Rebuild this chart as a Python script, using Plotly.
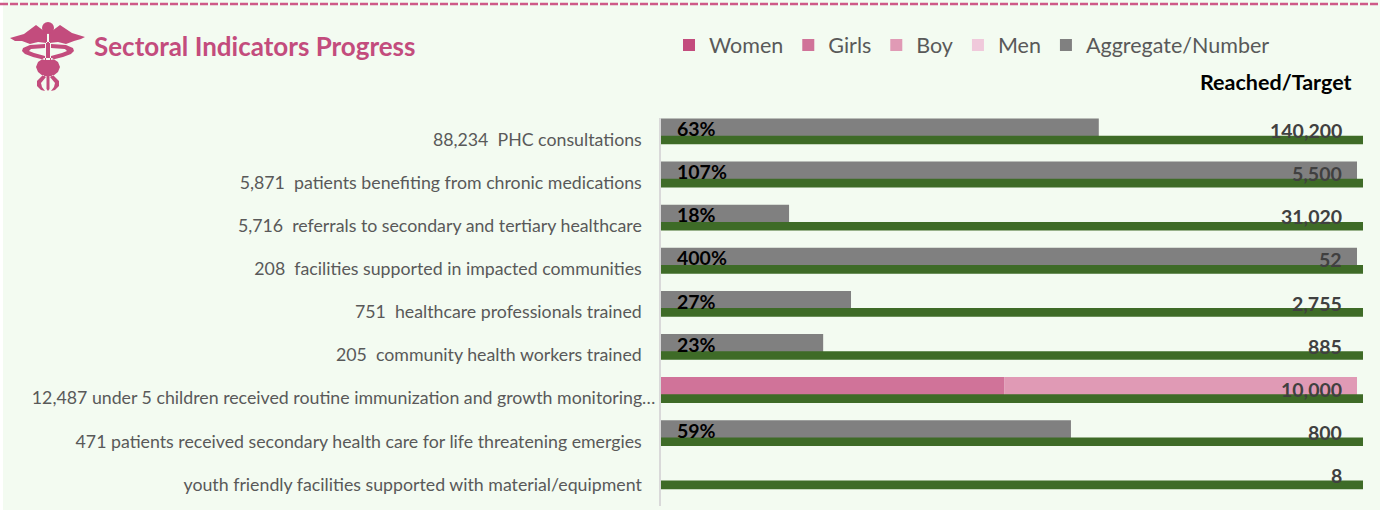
import plotly.graph_objects as go

categories = [
    "88,234  PHC consultations",
    "5,871  patients benefiting from chronic medications",
    "5,716  referrals to secondary and tertiary healthcare",
    "208  facilities supported in impacted communities",
    "751  healthcare professionals trained",
    "205  community health workers trained",
    "12,487 under 5 children received routine immunization and growth monitoring\u2026",
    "471 patients received secondary health care for life threatening emergies",
    "youth friendly facilities supported with material/equipment",
]
label_padding = [3, 3, 3, 3, 3, 3, 0, 3, 3]
aggregate = [0.629, 1.0, 0.184, 1.0, 0.273, 0.233, None, 0.589, None]
girls = [None, None, None, None, None, None, 0.493, None, None]
boy = [None, None, None, None, None, None, 0.507, None, None]
target_bar = [1.0086] * 9
percent_labels = ["63%", "107%", "18%", "400%", "27%", "23%", "", "59%", ""]
target_labels = ["140,200", "5,500", "31,020", "52", "2,755", "885", "10,000", "800", "8"]

W, H = 1380, 510
FONT = "Lato, Carlito, Calibri, sans-serif"
PINK = "#C34C7D"
BG = "#F3FBF1"
def px(x): return x / W
def py(y): return 1 - y / H

def path(points, close=True):
    s = "M" + " L".join(f"{px(x):.5f},{py(y):.5f}" for x, y in points)
    return s + (" Z" if close else "")

fig = go.Figure()
GW, GO = 0.42, -0.49
def bar(name, vals, color, base=None, width=GW, offset=GO, legend=True):
    fig.add_bar(name=name, y=categories, x=vals, base=base, orientation="h", width=width, offset=offset,
                marker=dict(color=color, line_width=0), showlegend=legend, hoverinfo="skip" if not legend else None)

bar("Women", [None] * 9, "#C34C7D")
bar("Girls", girls, "#D07399")
bar("Boy", boy, "#E09AB5", base=girls)
bar("Men", [None] * 9, "#F0C9DB")
bar("Aggregate/Number", aggregate, "#808080")
bar("Target", target_bar, "#3E6B27", width=0.2, offset=-0.09, legend=False)

annotations = []
for c, p, t in zip(categories, percent_labels, target_labels):
    if p:
        annotations.append(dict(x=0, y=c, xref="x", yref="y", text=f"<b>{p}</b>", showarrow=False, xanchor="left",
                                yanchor="middle", xshift=14, yshift=11,
                                font=dict(family=FONT, size=19.5, color="#000000")))
    annotations.append(dict(x=1, y=c, xref="x", yref="y", text=f"<b>{t}</b>", showarrow=False, xanchor="right",
                            yanchor="middle", xshift=-13, yshift=9,
                            font=dict(family=FONT, size=19.5, color="#404040")))
annotations.append(dict(x=px(1354), y=py(82), xref="paper", yref="paper", text="<b>Reached/Target</b>",
                        showarrow=False, xanchor="right", yanchor="middle",
                        font=dict(family=FONT, size=21.5, color="#000000")))

left_wing = [(10,38),(24,34),(36,25),(44,31),(47,33),(47,43),(38,42),(30,44),(22,41),(15,41)]
right_wing = [(85,37),(72,33),(60,25),(52,31),(49,33),(49,43),(58,42),(66,44),(74,41),(81,39)]
coil_l = [(45,44),(30,45),(23,48),(22,51),(25,54),(33,57),(45,60),(45,56),(34,53),(29,51),(31,49),(45,48)]
coil_r = [(51,44),(66,45),(73,48),(74,51),(71,54),(63,57),(51,60),(51,56),(62,53),(67,51),(65,49),(51,48)]
neck = [(46,42),(50,42),(50,60),(46,60)]
body = [(44,58),(52,58),(58,62),(60,67),(58,72),(53,76),(43,76),(38,72),(36,67),(38,62)]
leg_l = [(43,75),(46,77),(41,83),(42,87),(45,91),(41,90),(37,86),(37,81)]
leg_r = [(53,75),(50,77),(55,83),(54,87),(51,91),(55,90),(59,86),(59,81)]
mid = [(46.5,76),(49.5,76),(49.5,89),(48,91),(46.5,89)]
logo = " ".join(path(p) for p in [left_wing, right_wing, coil_l, coil_r, neck, body, leg_l, leg_r, mid])

shapes = [
    dict(type="rect", xref="paper", yref="paper", x0=px(3), x1=1, y0=0, y1=1, fillcolor=BG, line_width=0, layer="below"),
    dict(type="line", xref="paper", yref="paper", x0=0, x1=1, y0=py(4), y1=py(4), line=dict(color="#CE5A88", width=2.5, dash="8px,2px")),
    dict(type="circle", xref="paper", yref="paper", x0=px(42), x1=px(54), y0=py(34), y1=py(22), fillcolor=PINK, line_width=0),
    dict(type="path", xref="paper", yref="paper", path=logo, fillcolor=PINK, line_width=0),
]

fig.update_layout(
    width=W, height=H, margin=dict(l=0, r=0, t=0, b=0, pad=0), autosize=False,
    barmode="overlay", paper_bgcolor="#FFFFFF", plot_bgcolor="rgba(0,0,0,0)",
    font=dict(family=FONT, color="#595959"),
    title=dict(text="<b>Sectoral Indicators Progress</b>", x=px(94), y=py(47), xanchor="left", yanchor="middle",
               xref="paper", yref="paper", font=dict(family=FONT, size=26, color=PINK)),
    legend=dict(orientation="h", x=px(669), y=py(45), xanchor="left", yanchor="middle", bgcolor="rgba(0,0,0,0)",
                font=dict(family=FONT, size=21.5, color="#595959"), itemclick=False, itemdoubleclick=False,
                traceorder="normal"),
    xaxis=dict(domain=[px(661), px(1363)], range=[0, 1.0086], visible=False, fixedrange=True),
    yaxis=dict(domain=[py(506), py(118)], autorange=False, range=[8.5, -0.5], categoryorder="array", categoryarray=categories,
               tickmode="array", tickvals=categories, ticktext=[c + "\u00a0" * n for c, n in zip(categories, label_padding)],
               showgrid=False, ticks="", ticklabelstandoff=0, showline=True, linecolor="#D9D9D9", linewidth=2,
               tickfont=dict(family=FONT, size=17.75, color="#595959"), fixedrange=True),
    annotations=annotations, shapes=shapes,
)
fig.write_html("out.html", config={"displayModeBar": False},
               post_script="document.body.style.margin='0';")
